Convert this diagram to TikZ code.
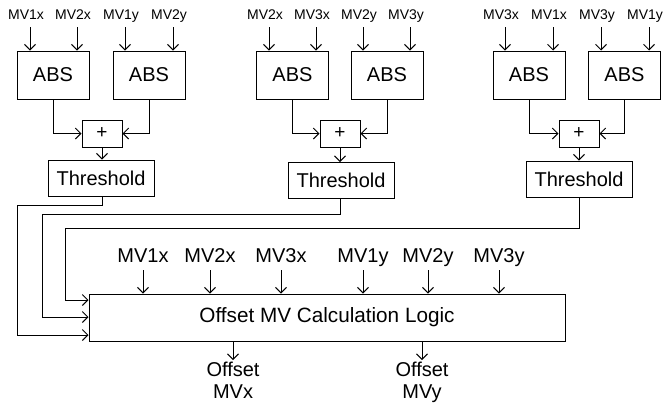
\documentclass[tikz,border=0pt]{standalone}
\usepackage{fontspec}
\setmainfont{Liberation Sans}
\usetikzlibrary{arrows.meta}
\begin{document}
\begin{tikzpicture}[x=1pt,y=-1pt, line width=1pt,
  box/.style={draw, rectangle, inner sep=0pt, line width=1pt},
  absbox/.style={box, minimum width=72pt, minimum height=48pt, font=\fontsize{20}{22}\selectfont},
  plusbox/.style={box, minimum width=40pt, minimum height=27pt, font=\fontsize{19}{22}\selectfont},
  thrbox/.style={box, minimum width=106pt, minimum height=36pt, font=\fontsize{20}{22}\selectfont},
  logicbox/.style={box, minimum width=476pt, minimum height=47pt, font=\fontsize{20.7}{22}\selectfont},
  toplab/.style={inner sep=0pt, anchor=base, font=\fontsize{14}{16}\selectfont},
  lab/.style={inner sep=0pt, anchor=base, font=\fontsize{20}{22}\selectfont},
  outlab/.style={inner sep=0pt, anchor=north, align=center, font=\fontsize{20}{21.5}\selectfont},
  arr/.style={-{Straight Barb[length=5.5pt,width=11pt]}}
]
\useasboundingbox (0,0) rectangle (665,405);

% ---------- group 1 ----------
\node[absbox] (a11) at (53,75) {ABS};
\node[absbox] (a12) at (149,75) {ABS};
\node[plusbox] (p1) at (102,133.5) {+};
\node[thrbox] (t1) at (101,178) {Threshold};
\node[toplab] (l111) at (26,19) {MV1x};
\node[toplab] (l112) at (73,19) {MV2x};
\node[toplab] (l121) at (121,19) {MV1y};
\node[toplab] (l122) at (169,19) {MV2y};
\coordinate (i111) at (30,27);
\coordinate (i112) at (77,27);
\coordinate (i121) at (125,27);
\coordinate (i122) at (173,27);

% ---------- group 2 ----------
\node[absbox] (a21) at (292.5,75) {ABS};
\node[absbox] (a22) at (387,75) {ABS};
\node[plusbox] (p2) at (340,133.5) {+};
\node[thrbox] (t2) at (341,180.5) {Threshold};
\node[toplab] (l211) at (265,19) {MV2x};
\node[toplab] (l212) at (312,19) {MV3x};
\node[toplab] (l221) at (359,19) {MV2y};
\node[toplab] (l222) at (406,19) {MV3y};
\coordinate (i211) at (269,27);
\coordinate (i212) at (316,27);
\coordinate (i221) at (363,27);
\coordinate (i222) at (410,27);

% ---------- group 3 ----------
\node[absbox] (a31) at (529,75) {ABS};
\node[absbox] (a32) at (624.5,75) {ABS};
\node[plusbox] (p3) at (579,133.5) {+};
\node[thrbox] (t3) at (579,179) {Threshold};
\node[toplab] (l311) at (501,19) {MV3x};
\node[toplab] (l312) at (549,19) {MV1x};
\node[toplab] (l321) at (597,19) {MV3y};
\node[toplab] (l322) at (645,19) {MV1y};
\coordinate (i311) at (505,27);
\coordinate (i312) at (553,27);
\coordinate (i321) at (601,27);
\coordinate (i322) at (649,27);

% inputs into ABS boxes
\foreach \g in {1,2,3}{
  \draw[arr] (i\g11) -- (i\g11 |- a\g1.north);
  \draw[arr] (i\g12) -- (i\g12 |- a\g1.north);
  \draw[arr] (i\g21) -- (i\g21 |- a\g2.north);
  \draw[arr] (i\g22) -- (i\g22 |- a\g2.north);
  \draw[arr] (a\g1.south) |- (p\g.west);
  \draw[arr] (a\g2.south) |- (p\g.east);
  \draw[arr] (p\g.south) -- (p\g.south |- t\g.north);
}

% ---------- logic ----------
\node[logicbox] (logic) at (327,317.5) {Offset MV Calculation Logic};
\node[lab] (m1x) at (143,262) {MV1x};
\node[lab] (m2x) at (210,262) {MV2x};
\node[lab] (m3x) at (281,262) {MV3x};
\node[lab] (m1y) at (363,262) {MV1y};
\node[lab] (m2y) at (428,262) {MV2y};
\node[lab] (m3y) at (499,262) {MV3y};
\foreach \n/\x in {m1x/143,m2x/210,m3x/281,m1y/363,m2y/428,m3y/499}{
  \coordinate (c\n) at (\x,270);
  \draw[arr] (c\n) -- (c\n |- logic.north);
}

% feedback from thresholds
\coordinate (f1a) at (17,205);
\coordinate (f1b) at (17,335);
\coordinate (f2a) at (42,214);
\coordinate (f2b) at (42,317);
\coordinate (f3a) at (65,228);
\coordinate (f3b) at (65,300);
\draw[arr] (p1.south |- t1.south) |- (f1a) -- (f1b) -- (f1b -| logic.west);
\draw[arr] (p2.south |- t2.south) |- (f2a) -- (f2b) -- (f2b -| logic.west);
\draw[arr] (p3.south |- t3.south) |- (f3a) -- (f3b) -- (f3b -| logic.west);

% outputs
\coordinate (o1) at (233,360);
\coordinate (o2) at (422,360);
\draw[arr] (o1 |- logic.south) -- (o1);
\draw[arr] (o2 |- logic.south) -- (o2);
\node[outlab] (ox) at (233,362) {Offset\\MVx};
\node[outlab] (oy) at (422,362) {Offset\\MVy};
\end{tikzpicture}
\end{document}
